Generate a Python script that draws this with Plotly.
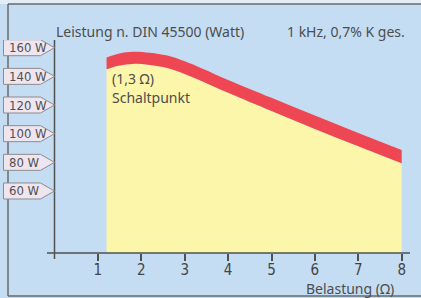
import plotly.graph_objects as go

# ---- data ----
load_ohm = [1.2, 1.5, 1.8, 2.2, 2.6, 3.0, 3.4, 4.0, 5.0, 6.0, 7.0, 8.0]
power_upper = [153.2, 156.0, 157.2, 156.5, 154.5, 150.5, 145.5, 137.5, 125.0, 112.6, 100.5, 88.6]
power_lower = [145.0, 147.6, 148.7, 147.9, 145.8, 141.7, 136.6, 128.5, 115.8, 103.3, 91.2, 79.3]
x_ticks = [1, 2, 3, 4, 5, 6, 7, 8]
y_ticks = [60, 80, 100, 120, 140, 160]
y_tick_labels = ["60 W", "80 W", "100 W", "120 W", "140 W", "160 W"]

# ---- styling ----
W, H = 421, 298
L, R, T, B = 2, 11, 40, 45
PW, PH = W - L - R, H - T - B
BLUE = "#c4ddf3"
YELLOW = "#fcf6aa"
RED = "#ee4652"
TXT = "#4d4d4d"
AX = "#505050"
FONT = "Noto Sans"
NARROW = "DejaVu Sans Condensed, Liberation Sans Narrow, Arial Narrow, sans-serif"


def px(xp):
    return (xp - L) / PW


def py(yp):
    return (H - B - yp) / PH


fig = go.Figure()
fig.add_trace(go.Scatter(x=load_ohm, y=power_lower, mode="lines", line=dict(width=0, shape="spline"),
                         fill="tozeroy", fillcolor=YELLOW, hoverinfo="skip", showlegend=False))
fig.add_trace(go.Scatter(x=load_ohm, y=power_upper, mode="lines", line=dict(width=0, shape="spline"),
                         fill="tonexty", fillcolor=RED, hoverinfo="skip", showlegend=False))

shapes = []
# frame
shapes.append(dict(type="rect", xref="paper", yref="paper", x0=px(-5), x1=px(430), y0=py(4), y1=py(-5),
                   fillcolor="#e4edf6", line=dict(width=0), layer="below"))
shapes.append(dict(type="line", xref="paper", yref="paper", x0=px(8), x1=px(430), y0=py(4), y1=py(4),
                   line=dict(color="#6a6a6a", width=1.5)))
shapes.append(dict(type="line", xref="paper", yref="paper", x0=px(8), x1=px(430), y0=py(296), y1=py(296),
                   line=dict(color="#6a6a6a", width=1.5)))
shapes.append(dict(type="line", xref="paper", yref="paper", x0=px(8), x1=px(8), y0=py(4), y1=py(296),
                   line=dict(color="#6a6a6a", width=1.5)))
# axes
shapes.append(dict(type="line", xref="paper", yref="paper", x0=px(47), x1=px(410), y0=0, y1=0,
                   line=dict(color=AX, width=1.5)))
shapes.append(dict(type="line", xref="x", yref="paper", x0=0, x1=0, y0=py(259), y1=1,
                   line=dict(color=AX, width=1.5)))

annotations = []
# y tick tags
for v, lab in zip(y_ticks, y_tick_labels):
    shapes.append(dict(type="path", xref="x", yref="y", xsizemode="pixel", ysizemode="pixel",
                       xanchor=0, yanchor=v,
                       path="M 0,0 L -14,8 L -51,8 L -51,-8 L -14,-8 Z",
                       fillcolor="#efe5ef", line=dict(color="#8c8c8c", width=1)))
    annotations.append(dict(x=0, y=v, xref="x", yref="y", xshift=-48, xanchor="left", yanchor="middle",
                            text=lab, showarrow=False, font=dict(family=NARROW, size=13, color="#505050")))

annotations += [
    dict(x=px(54), y=py(32), xref="paper", yref="paper", xanchor="left", yanchor="middle",
         text="Leistung n. DIN 45500 (Watt)", showarrow=False, font=dict(family=FONT, size=14, color=TXT)),
    dict(x=px(407), y=py(32), xref="paper", yref="paper", xanchor="right", yanchor="middle",
         text="1 kHz, 0,7% K ges.", showarrow=False, font=dict(family=FONT, size=14, color=TXT)),
    dict(x=px(110), y=py(78), xref="paper", yref="paper", xanchor="left", yanchor="middle",
         text="(1,3 Ω)", showarrow=False, font=dict(family=FONT, size=14, color=TXT)),
    dict(x=px(110), y=py(97), xref="paper", yref="paper", xanchor="left", yanchor="middle",
         text="Schaltpunkt", showarrow=False, font=dict(family=FONT, size=14, color=TXT)),
    dict(x=px(396), y=py(288), xref="paper", yref="paper", xanchor="right", yanchor="middle",
         text="Belastung (Ω)", showarrow=False, font=dict(family=FONT, size=14, color=TXT)),
]

fig.update_layout(
    width=W, height=H, margin=dict(l=L, r=R, t=T, b=B),
    paper_bgcolor=BLUE, plot_bgcolor="rgba(0,0,0,0)",
    shapes=shapes, annotations=annotations, showlegend=False,
    xaxis=dict(range=[(L - 54.5) / 43.4, (410 - 54.5) / 43.4], tickvals=x_ticks, ticks="outside",
               ticklen=7, tickwidth=1.5, tickcolor=AX, showline=False, showgrid=False, zeroline=False,
               ticklabelstandoff=-4,
               tickfont=dict(family=NARROW, size=15, color="#444444"), fixedrange=True),
    yaxis=dict(range=[16.73, 165.37], visible=False, fixedrange=True),
)

fig.write_html("out.html", config={"displayModeBar": False},
               post_script="document.body.style.margin='0';document.body.style.overflow='hidden';")
